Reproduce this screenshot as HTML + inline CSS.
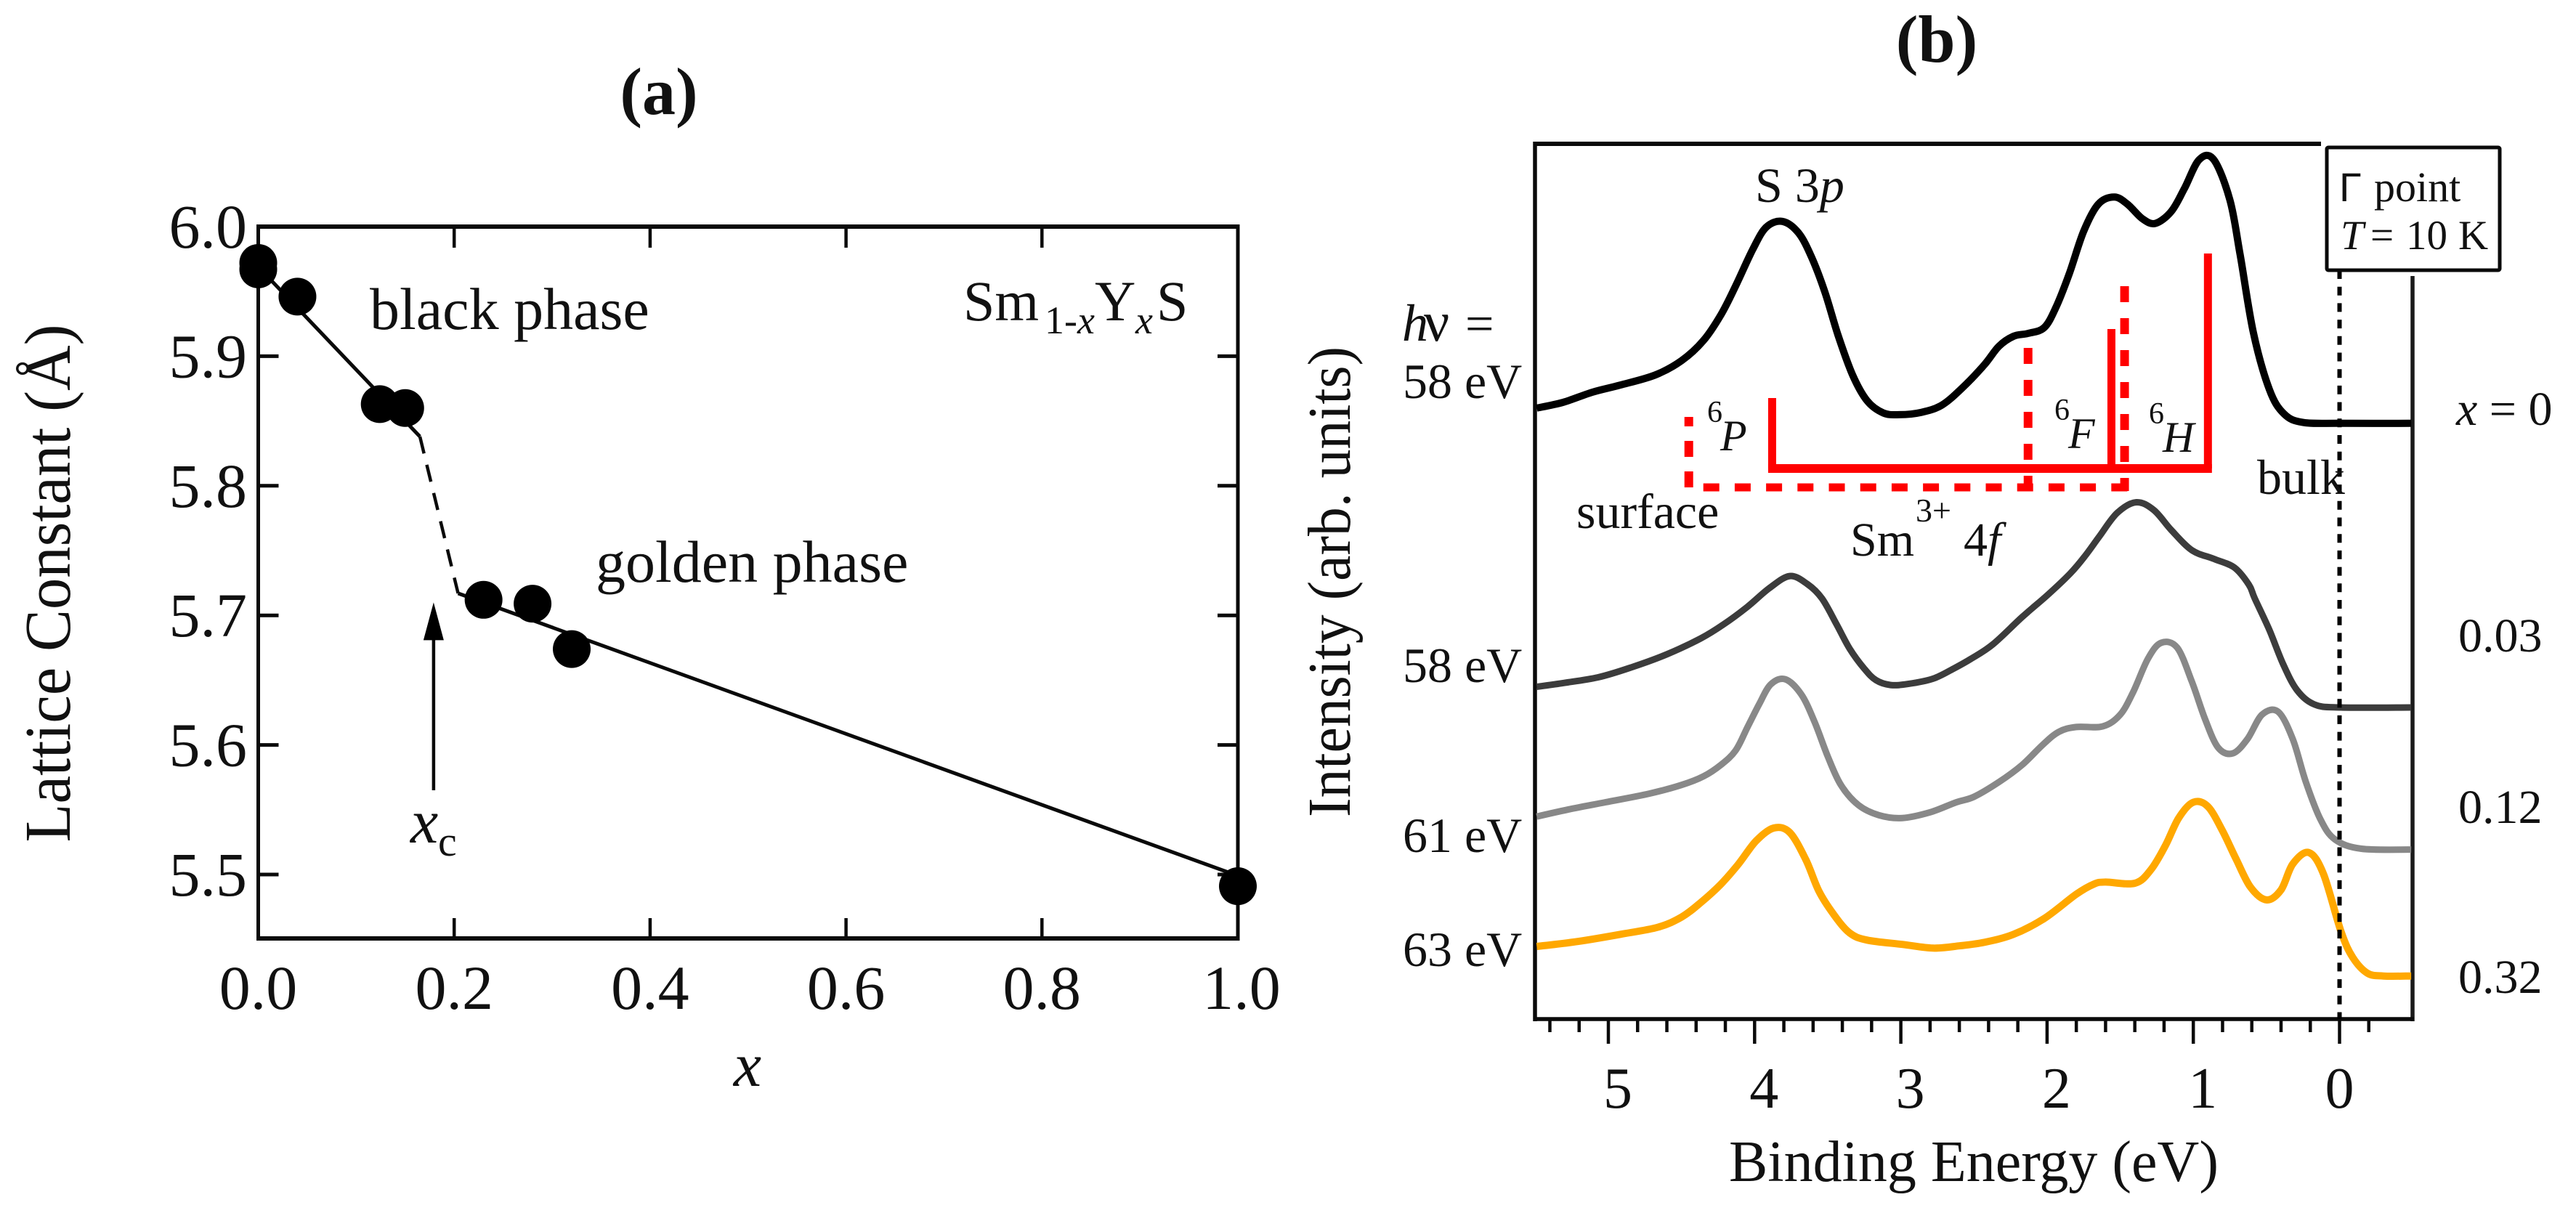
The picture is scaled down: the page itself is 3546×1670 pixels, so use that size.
<!DOCTYPE html>
<html lang="en">
<head>
<meta charset="utf-8">
<title>Sm1-xYxS lattice constant and photoemission spectra</title>
<style>
html,body{margin:0;padding:0;background:#fff;}
svg{display:block;}
text{font-family:"Liberation Serif","DejaVu Serif",serif;fill:#111;}
</style>
</head>
<body>
<svg id="fig" xmlns="http://www.w3.org/2000/svg" width="3546" height="1670" viewBox="0 0 3546 1670">
  <rect x="0" y="0" width="3546" height="1670" fill="#fff"/>

  <!-- Panel a static -->
  <text x="907" y="157" font-size="92" font-weight="bold" text-anchor="middle">(a)</text>
  <text transform="translate(96 803) rotate(-90)" font-size="90" text-anchor="middle" textLength="713" lengthAdjust="spacingAndGlyphs">Lattice Constant (Å)</text>
  <text x="1029" y="1495" font-size="86" font-style="italic" text-anchor="middle">x</text>
  <g id="panelA"></g>
  <text x="509" y="453" font-size="82">black phase</text>
  <text x="820" y="801" font-size="82">golden phase</text>
  <text y="441" font-size="78"><tspan x="1326">Sm</tspan><tspan x="1438" y="459" font-size="54">1-<tspan font-style="italic">x</tspan></tspan><tspan x="1507" y="441">Y</tspan><tspan x="1563" y="459" font-size="54" font-style="italic">x</tspan><tspan x="1592" y="441">S</tspan></text>
  <text y="1160" font-size="86"><tspan x="565" font-style="italic">x</tspan><tspan x="603" y="1178" font-size="58">c</tspan></text>

  <!-- Panel b static -->
  <text x="2666" y="85" font-size="92" font-weight="bold" text-anchor="middle">(b)</text>
  <text transform="translate(1858 801) rotate(-90)" font-size="84" text-anchor="middle" textLength="648" lengthAdjust="spacingAndGlyphs">Intensity (arb. units)</text>
  <text x="2717" y="1626" font-size="80" text-anchor="middle">Binding Energy (eV)</text>
  <g id="panelB"></g>

  <rect x="3203" y="203" width="238" height="169" rx="2" fill="#fff" stroke="#0a0a0a" stroke-width="5"/>
  <text y="277" font-size="58"><tspan x="3220" font-family="Liberation Sans, sans-serif" font-size="56">Γ</tspan><tspan x="3268">point</tspan></text>
  <text y="343" font-size="57"><tspan x="3222" font-style="italic">T</tspan><tspan x="3263">=</tspan><tspan x="3312">10</tspan><tspan x="3384">K</tspan></text>

  <text x="2416" y="278" font-size="68">S 3<tspan font-style="italic">p</tspan></text>
  <text y="469" font-size="70"><tspan x="1930" font-style="italic" font-size="72">h</tspan><tspan x="1960" font-size="78">ν</tspan><tspan x="2017">=</tspan></text>
  <text x="1931" y="548" font-size="68">58 eV</text>
  <text x="1931" y="939" font-size="68">58 eV</text>
  <text x="1931" y="1173" font-size="68">61 eV</text>
  <text x="1931" y="1330" font-size="68">63 eV</text>

  <text x="3381" y="585" font-size="66"><tspan font-style="italic">x</tspan> = 0</text>
  <text x="3384" y="897" font-size="66">0.03</text>
  <text x="3384" y="1133" font-size="66">0.12</text>
  <text x="3384" y="1367" font-size="66">0.32</text>

  <text x="2170" y="727" font-size="68">surface</text>
  <text x="3107" y="680" font-size="68">bulk</text>
  <text x="2547" y="765" font-size="66">Sm</text>
  <text x="2637" y="718" font-size="46">3+</text>
  <text x="2703" y="765" font-size="66">4<tspan font-style="italic">f</tspan></text>

  <text x="2350" y="581" font-size="42">6</text>
  <text x="2368" y="620" font-size="60" font-style="italic">P</text>
  <text x="2828" y="578" font-size="42">6</text>
  <text x="2847" y="617" font-size="60" font-style="italic">F</text>
  <text x="2958" y="583" font-size="42">6</text>
  <text x="2977" y="622" font-size="60" font-style="italic">H</text>
</svg>

<script>
// ---------- Panel (a) data ----------
const compositionX = [0, 0, 0.04, 0.124, 0.15, 0.23, 0.28, 0.32, 1.0];
const latticeConstant = [5.972, 5.967, 5.946, 5.863, 5.86, 5.712, 5.709, 5.674, 5.491];
const blackFitX = [0, 0.165];
const blackFitY = [5.969, 5.838];
const transitionFitX = [0.165, 0.204];
const transitionFitY = [5.838, 5.717];
const goldenFitX = [0.204, 1.0];
const goldenFitY = [5.717, 5.499];
const criticalX = [0.179];
const criticalArrowY = [5.565, 5.71];
const xTicksA = [0, 0.2, 0.4, 0.6, 0.8, 1.0];
const xTickLabelsA = ['0.0', '0.2', '0.4', '0.6', '0.8', '1.0'];
const yTicksA = [6.0, 5.9, 5.8, 5.7, 5.6, 5.5];
const yTickLabelsA = ['6.0', '5.9', '5.8', '5.7', '5.6', '5.5'];

// ---------- Panel (b) data ----------
const energyBlack = [5.49,5.31,5.11,4.92,4.68,4.50,4.35,4.23,4.13,4.01,3.92,3.81,3.70,3.61,3.52,3.43,3.33,3.23,3.12,3.01,2.86,2.72,2.58,2.43,2.33,2.23,2.13,2.02,1.94,1.85,1.75,1.65,1.54,1.45,1.35,1.26,1.15,1.06,0.96,0.86,0.75,0.68,0.59,0.48,0.38,0.25,-0.01,-0.49];
const intensityBlack = [84.12,84.91,86.3,87.28,88.67,90.64,93.41,96.97,100.92,106.07,109.03,109.82,108.24,104.88,100.13,94.2,88.67,85.11,83.45,83.21,83.53,84.52,86.89,90.05,92.62,94.0,94.4,95.19,97.96,102.51,108.44,112.19,113.18,112.19,110.22,109.54,111.21,114.37,118.32,118.32,112.79,105.27,94.6,86.69,83.33,82.14,82.02,82.02];
const energyDark = [5.49,5.31,5.07,4.84,4.60,4.37,4.21,4.05,3.90,3.76,3.64,3.54,3.44,3.35,3.25,3.17,3.07,2.95,2.78,2.64,2.52,2.37,2.17,2.00,1.84,1.74,1.64,1.52,1.39,1.27,1.15,1.01,0.86,0.72,0.62,0.58,0.48,0.385,0.29,0.17,-0.01,-0.49];
const intensityDark = [45.75,46.26,47.05,48.44,50.22,52.39,54.37,56.74,59.31,60.99,59.9,57.93,54.37,51.0,48.24,46.66,45.99,46.14,46.86,48.24,49.6,51.6,55.36,58.32,61.38,63.76,66.52,69.69,71.15,70.08,67.31,64.55,63.36,62.17,59.8,57.93,53.58,48.83,45.27,43.3,42.9,42.9];
const energyGray = [5.49,5.27,5.02,4.72,4.50,4.35,4.23,4.13,4.05,3.97,3.89,3.79,3.68,3.59,3.50,3.41,3.29,3.15,2.99,2.80,2.62,2.50,2.33,2.17,2.03,1.92,1.80,1.62,1.50,1.41,1.31,1.22,1.11,1.01,0.92,0.83,0.73,0.63,0.53,0.42,0.32,0.23,0.13,0.03,-0.15,-0.49];
const intensityGray = [27.88,28.87,29.85,31.04,32.23,33.41,35.0,36.97,40.13,43.3,46.07,46.78,44.68,40.92,36.18,32.23,29.46,28.07,27.68,28.47,29.85,30.6,32.62,35.0,37.76,39.54,40.21,40.29,41.91,45.08,49.62,51.8,51.13,46.46,41.32,37.37,36.58,38.55,41.91,42.31,38.55,32.62,27.48,24.71,23.45,23.33];
const energyOrange = [5.49,5.21,4.92,4.66,4.50,4.37,4.23,4.11,3.99,3.87,3.76,3.65,3.56,3.46,3.35,3.23,2.99,2.78,2.60,2.43,2.23,2.02,1.80,1.68,1.60,1.40,1.29,1.19,1.10,1.00,0.90,0.80,0.71,0.61,0.50,0.40,0.32,0.21,0.11,-0.01,-0.09,-0.19,-0.30,-0.49];
const intensityOrange = [10.0,10.68,11.66,12.65,14.04,16.01,18.58,21.35,24.52,26.3,25.7,21.95,17.6,14.43,11.86,10.87,10.28,9.77,10.08,10.56,11.66,13.84,17.2,18.58,18.86,18.7,20.56,23.92,27.68,29.85,29.26,25.9,22.14,18.19,16.41,17.79,21.35,22.93,19.97,12.06,8.5,6.33,5.93,5.93];
const xMajorTicksB = [5, 4, 3, 2, 1, 0];
const xTickLabelsB = ['5', '4', '3', '2', '1', '0'];
const xMinorTicksB = [5.4,5.2,4.8,4.6,4.4,4.2,3.8,3.6,3.4,3.2,2.8,2.6,2.4,2.2,1.8,1.6,1.4,1.2,0.8,0.6,0.4,0.2,-0.2];
const bulkEnergies = [3.88, 1.56, 0.90];
const bulkTopIntensities = [85.5, 95.0, 105.4];
const surfaceEnergies = [4.45, 2.13, 1.47];
const surfaceTopIntensities = [82.9, 92.4, 100.9];
const bulkBaseIntensity = [75.8];
const surfaceBaseIntensity = [73.2];
const fermiEnergy = [0];

const NS = 'http://www.w3.org/2000/svg';
function make(parent, tag, attrs, text) {
  const el = document.createElementNS(NS, tag);
  for (const k in attrs) el.setAttribute(k, attrs[k]);
  if (text !== undefined) el.textContent = text;
  parent.appendChild(el);
  return el;
}

// ---------- Panel (a) scales ----------
const A = { left: 355.5, right: 1704, top: 312, bottom: 1292 };
const xA = v => A.left + (v - 0) * (A.right - A.left) / 1.0;
const yA = v => A.top + (6.0 - v) * 1784;
const gA = document.getElementById('panelA');
const INK = '#0a0a0a';

let el;
el = make(gA, 'line', { x1: A.left, y1: A.top - 3, x2: A.left, y2: A.bottom + 3, stroke: INK, 'stroke-width': 5 });


el = make(gA, 'line', { x1: A.right, y1: A.top - 3, x2: A.right, y2: A.bottom + 3, stroke: INK, 'stroke-width': 5 });


el = make(gA, 'line', { x1: A.left - 2, y1: A.top, x2: A.right + 2, y2: A.top, stroke: INK, 'stroke-width': 6 });


el = make(gA, 'line', { x1: A.left - 2, y1: A.bottom, x2: A.right + 2, y2: A.bottom, stroke: INK, 'stroke-width': 6 });



xTicksA.forEach((v, i) => {
  if (v > 0 && v < 1) {
    const b = make(gA, 'line', { x1: xA(v), y1: A.bottom, x2: xA(v), y2: A.bottom - 28, stroke: INK, 'stroke-width': 4.5 });
    
    
    const t = make(gA, 'line', { x1: xA(v), y1: A.top, x2: xA(v), y2: A.top + 29, stroke: INK, 'stroke-width': 4.5 });
    
    
  }
  const lab = make(gA, 'text', { x: xA(v) + (v === 1 ? 5 : 0), y: 1389, 'font-size': 86, 'text-anchor': 'middle' }, xTickLabelsA[i]);
  
  
});
yTicksA.forEach((v, i) => {
  if (v < 6.0) {
    const l = make(gA, 'line', { x1: A.left, y1: yA(v), x2: A.left + 28, y2: yA(v), stroke: INK, 'stroke-width': 5 });
    
    
    const r = make(gA, 'line', { x1: A.right, y1: yA(v), x2: A.right - 28, y2: yA(v), stroke: INK, 'stroke-width': 5 });
    
    
  }
  const lab = make(gA, 'text', { x: 340, y: yA(v) + 29, 'font-size': 86, 'text-anchor': 'end' }, yTickLabelsA[i]);
  
  
});

el = make(gA, 'line', { x1: xA(blackFitX[0]), y1: yA(blackFitY[0]), x2: xA(blackFitX[1]), y2: yA(blackFitY[1]), stroke: INK, 'stroke-width': 5 });


el = make(gA, 'line', { x1: xA(transitionFitX[0]), y1: yA(transitionFitY[0]), x2: xA(transitionFitX[1]), y2: yA(transitionFitY[1]), stroke: INK, 'stroke-width': 4.5, 'stroke-dasharray': '24 16' });


el = make(gA, 'line', { x1: xA(goldenFitX[0]), y1: yA(goldenFitY[0]), x2: xA(goldenFitX[1]), y2: yA(goldenFitY[1]), stroke: INK, 'stroke-width': 5 });



compositionX.forEach((v, i) => {
  const c = make(gA, 'circle', { cx: xA(v), cy: yA(latticeConstant[i]), r: 26, fill: '#000' });
  
  
});

const arrowX = xA(criticalX[0]);
const arrowBase = yA(criticalArrowY[0]);
const arrowTip = yA(criticalArrowY[1]);
el = make(gA, 'line', { x1: arrowX, y1: arrowBase, x2: arrowX, y2: arrowTip + 30, stroke: INK, 'stroke-width': 4.5 });


el = make(gA, 'polygon', { points: `${arrowX},${arrowTip} ${arrowX - 14},${arrowTip + 52} ${arrowX + 14},${arrowTip + 52}`, fill: '#000' });



// ---------- Panel (b) scales ----------
const B = { left: 2113, right: 3321, top: 198, bottom: 1403 };
const xB = e => 3220.5 - e * 201.3;
const yB = v => B.bottom - v * 10;
const gB = document.getElementById('panelB');

el = make(gB, 'line', { x1: B.left, y1: B.top - 3, x2: B.left, y2: B.bottom + 3, stroke: INK, 'stroke-width': 5.5 });


el = make(gB, 'line', { x1: B.right, y1: 380, x2: B.right, y2: B.bottom + 3, stroke: '#1a1a1a', 'stroke-width': 5.5 });


el = make(gB, 'line', { x1: B.left - 2, y1: B.top, x2: 3195, y2: B.top, stroke: INK, 'stroke-width': 6 });


el = make(gB, 'line', { x1: B.left - 2, y1: B.bottom, x2: B.right + 2, y2: B.bottom, stroke: INK, 'stroke-width': 5.5 });



xMinorTicksB.forEach(e => {
  const t = make(gB, 'line', { x1: xB(e), y1: B.bottom, x2: xB(e), y2: 1421, stroke: INK, 'stroke-width': 4.5 });
  
  
});
xMajorTicksB.forEach((e, i) => {
  const t = make(gB, 'line', { x1: xB(e), y1: B.bottom, x2: xB(e), y2: 1437, stroke: INK, 'stroke-width': 4.5 });
  
  
  const lab = make(gB, 'text', { x: xB(e) + (e === 0 ? 0 : 13), y: 1525, 'font-size': 80, 'text-anchor': 'middle' }, xTickLabelsB[i]);
  
  
});

function smoothPath(es, vs) {
  const p = es.map((e, i) => [xB(e), yB(vs[i])]);
  let d = `M${p[0][0].toFixed(1)} ${p[0][1].toFixed(1)}`;
  for (let i = 0; i < p.length - 1; i++) {
    const p0 = p[Math.max(0, i - 1)], p1 = p[i], p2 = p[i + 1], p3 = p[Math.min(p.length - 1, i + 2)];
    const c1x = p1[0] + (p2[0] - p0[0]) / 6, c1y = p1[1] + (p2[1] - p0[1]) / 6;
    const c2x = p2[0] - (p3[0] - p1[0]) / 6, c2y = p2[1] - (p3[1] - p1[1]) / 6;
    d += `C${c1x.toFixed(1)} ${c1y.toFixed(1)} ${c2x.toFixed(1)} ${c2y.toFixed(1)} ${p2[0].toFixed(1)} ${p2[1].toFixed(1)}`;
  }
  return d;
}

el = make(gB, 'path', { d: smoothPath(energyBlack, intensityBlack), fill: 'none', stroke: '#000', 'stroke-width': 10, 'stroke-linejoin': 'round' });


el = make(gB, 'path', { d: smoothPath(energyDark, intensityDark), fill: 'none', stroke: '#3c3c3c', 'stroke-width': 9, 'stroke-linejoin': 'round' });


el = make(gB, 'path', { d: smoothPath(energyGray, intensityGray), fill: 'none', stroke: '#888', 'stroke-width': 9, 'stroke-linejoin': 'round' });


el = make(gB, 'path', { d: smoothPath(energyOrange, intensityOrange), fill: 'none', stroke: '#ffa800', 'stroke-width': 10, 'stroke-linejoin': 'round' });



el = make(gB, 'line', { x1: xB(fermiEnergy[0]), y1: 372, x2: xB(fermiEnergy[0]), y2: B.bottom, stroke: '#000', 'stroke-width': 6, 'stroke-dasharray': '12 10.7' });



const RED = '#ff0000';
el = make(gB, 'line', { x1: xB(surfaceEnergies[0]) + 20, y1: yB(surfaceBaseIntensity[0]), x2: xB(surfaceEnergies[2]) + 4, y2: yB(surfaceBaseIntensity[0]), stroke: RED, 'stroke-width': 11, 'stroke-dasharray': '22 21.2' });


surfaceEnergies.forEach((e, i) => {
  const isFirst = i === 0;
  const y1 = isFirst ? yB(surfaceBaseIntensity[0]) : yB(surfaceTopIntensities[i]);
  const y2 = isFirst ? yB(surfaceTopIntensities[i]) : yB(surfaceBaseIntensity[0]) + 5;
  const d = make(gB, 'line', { x1: xB(e), y1: y1, x2: xB(e), y2: y2, stroke: RED, 'stroke-width': 12, 'stroke-dasharray': isFirst ? '22 20' : '22 22' });
  
  
});
bulkEnergies.forEach((e, i) => {
  const b = make(gB, 'line', { x1: xB(e), y1: yB(bulkTopIntensities[i]), x2: xB(e), y2: yB(bulkBaseIntensity[0]), stroke: RED, 'stroke-width': 11, 'stroke-linecap': 'butt' });
  
  
});
el = make(gB, 'line', { x1: xB(bulkEnergies[0]) - 5.5, y1: yB(bulkBaseIntensity[0]), x2: xB(bulkEnergies[2]) + 5.5, y2: yB(bulkBaseIntensity[0]), stroke: RED, 'stroke-width': 12 });


</script>
</body>
</html>
